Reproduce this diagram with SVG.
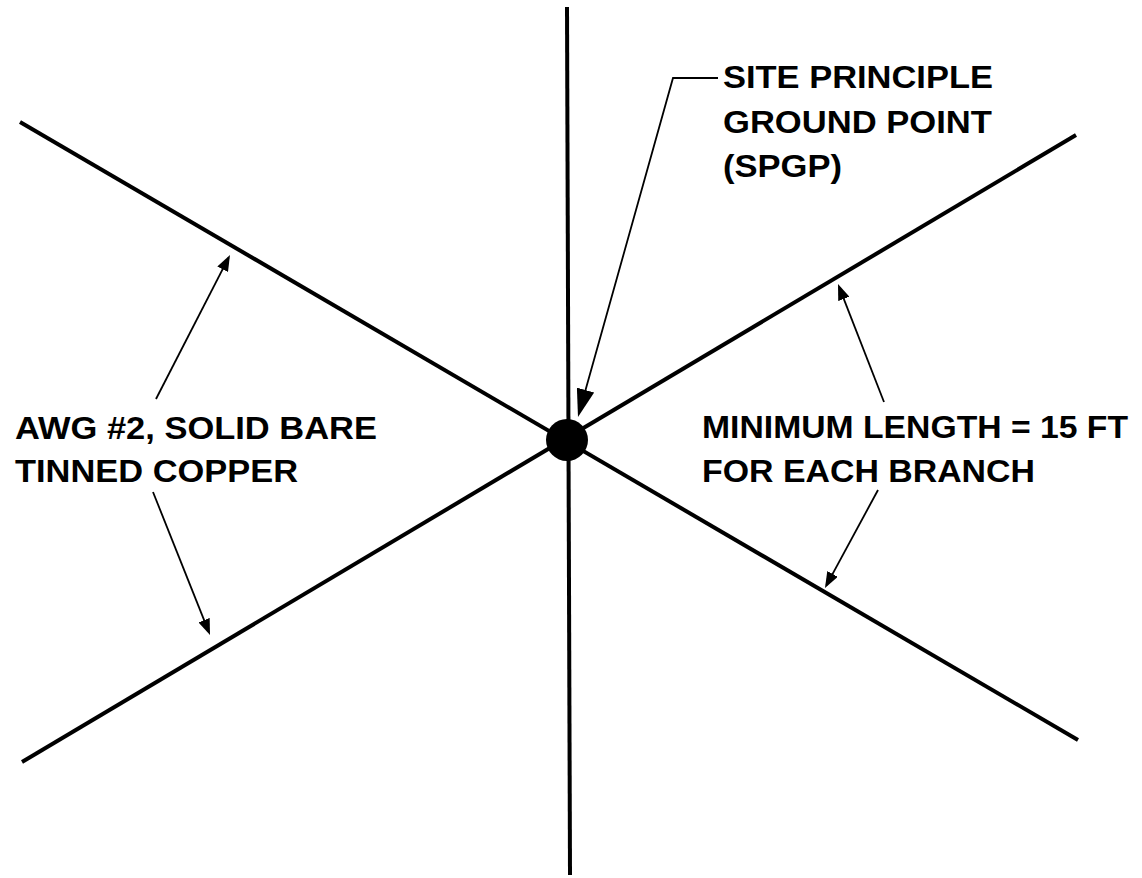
<svg xmlns="http://www.w3.org/2000/svg" width="1142" height="878" viewBox="0 0 1142 878">
<style>
.wire{stroke:#000;stroke-width:4;fill:none}
.lead{stroke:#000;stroke-width:1.8;fill:none}
.lbl{font-family:"Liberation Sans",Arial,sans-serif;font-weight:bold;font-size:31px;fill:#000}
</style>
<defs>
<marker id="arr" viewBox="0 -6 16 12" refX="13" refY="0" markerWidth="16" markerHeight="12" markerUnits="userSpaceOnUse" orient="auto">
<path d="M0,-6 L16,0 L0,6 z" fill="#000"/>
</marker>
<marker id="arrBig" viewBox="0 -9 28 18" refX="25" refY="0" markerWidth="28" markerHeight="18" markerUnits="userSpaceOnUse" orient="auto">
<path d="M0,-9 L28,0 L0,9 z" fill="#000"/>
</marker>
</defs>
<rect width="1142" height="878" fill="#fff"/>
<g id="wires">
<line class="wire" x1="567" y1="7" x2="570" y2="875"/>
<line class="wire" x1="20" y1="122" x2="1078" y2="740"/>
<line class="wire" x1="1076" y1="135" x2="22" y2="762"/>
</g>
<g id="spgp">
<circle cx="567" cy="440" r="21" fill="#000"/>
</g>
<g id="connectors">
<path class="lead" d="M718,78 H673 L578.8,414.1" marker-end="url(#arrBig)"/>
<line class="lead" x1="156" y1="399" x2="228.6" y2="257.7" marker-end="url(#arr)"/>
<line class="lead" x1="153" y1="492" x2="208.9" y2="632.2" marker-end="url(#arr)"/>
<line class="lead" x1="884" y1="402" x2="839.1" y2="286.8" marker-end="url(#arr)"/>
<line class="lead" x1="878" y1="490" x2="826.4" y2="585.4" marker-end="url(#arr)"/>
</g>
<g id="label-spgp">
<text class="lbl" transform="translate(723,88) scale(1.11,1)" textLength="243.2" lengthAdjust="spacingAndGlyphs">SITE PRINCIPLE</text>
<text class="lbl" transform="translate(723,133) scale(1.11,1)" textLength="242.3" lengthAdjust="spacingAndGlyphs">GROUND POINT</text>
<text class="lbl" transform="translate(723,177) scale(1.11,1)" textLength="107.2" lengthAdjust="spacingAndGlyphs">(SPGP)</text>
</g>
<g id="label-awg">
<text class="lbl" transform="translate(15,439) scale(1.11,1)" textLength="326.1" lengthAdjust="spacingAndGlyphs">AWG #2, SOLID BARE</text>
<text class="lbl" transform="translate(15,482) scale(1.11,1)" textLength="255" lengthAdjust="spacingAndGlyphs">TINNED COPPER</text>
</g>
<g id="label-length">
<text class="lbl" transform="translate(702,438) scale(1.11,1)" textLength="383.8" lengthAdjust="spacingAndGlyphs">MINIMUM LENGTH = 15 FT</text>
<text class="lbl" transform="translate(702,482) scale(1.11,1)" textLength="300" lengthAdjust="spacingAndGlyphs">FOR EACH BRANCH</text>
</g>
</svg>
